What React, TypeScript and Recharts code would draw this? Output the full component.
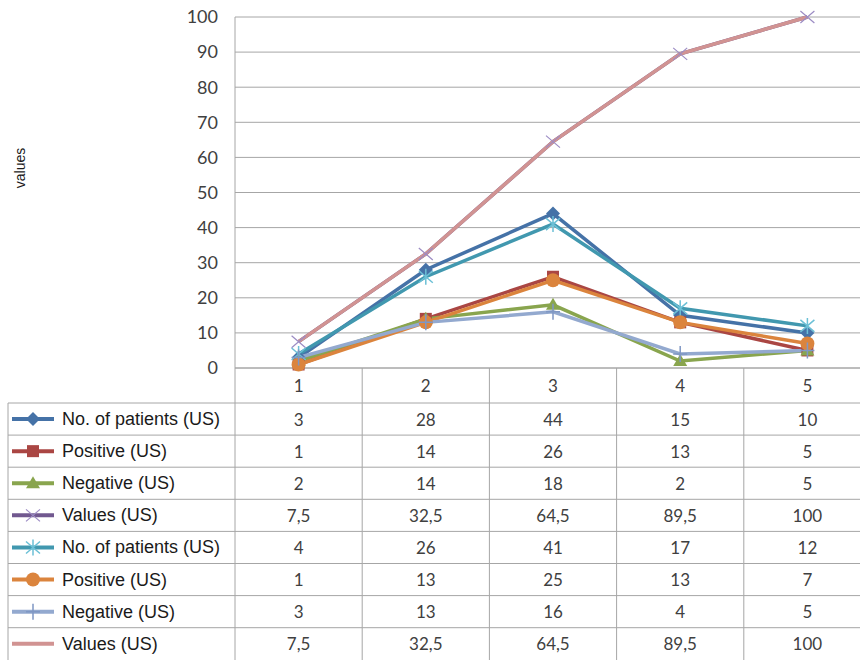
import { CartesianGrid, Line, LineChart, XAxis, YAxis } from 'recharts'

const categories = ['1', '2', '3', '4', '5']
const patientsA = [3, 28, 44, 15, 10]
const positiveA = [1, 14, 26, 13, 5]
const negativeA = [2, 14, 18, 2, 5]
const valuesA = [7.5, 32.5, 64.5, 89.5, 100]
const patientsB = [4, 26, 41, 17, 12]
const positiveB = [1, 13, 25, 13, 7]
const negativeB = [3, 13, 16, 4, 5]
const valuesB = [7.5, 32.5, 64.5, 89.5, 100]
const yTicks = [0, 10, 20, 30, 40, 50, 60, 70, 80, 90, 100]

type MarkerKind = 'diamond' | 'square' | 'triangle' | 'x' | 'star' | 'circle' | 'plus' | 'none'

const series: { key: string; name: string; values: number[]; color: string; mark: string; marker: MarkerKind }[] = [
  { key: 's1', name: 'No. of patients (US)', values: patientsA, color: '#4572a7', mark: '#4572a7', marker: 'diamond' },
  { key: 's2', name: 'Positive (US)', values: positiveA, color: '#aa4643', mark: '#aa4643', marker: 'square' },
  { key: 's3', name: 'Negative (US)', values: negativeA, color: '#89a54e', mark: '#89a54e', marker: 'triangle' },
  { key: 's4', name: 'Values (US)', values: valuesA, color: '#71588f', mark: '#9c8cc4', marker: 'x' },
  { key: 's5', name: 'No. of patients (US)', values: patientsB, color: '#4198af', mark: '#6cc0d6', marker: 'star' },
  { key: 's6', name: 'Positive (US)', values: positiveB, color: '#db843d', mark: '#db843d', marker: 'circle' },
  { key: 's7', name: 'Negative (US)', values: negativeB, color: '#93a9cf', mark: '#7f97c4', marker: 'plus' },
  { key: 's8', name: 'Values (US)', values: valuesB, color: '#d19392', mark: '#d19392', marker: 'none' },
]

const rows = categories.map((c, i) => {
  const r: Record<string, string | number> = { cat: c }
  series.forEach((s) => {
    r[s.key] = s.values[i]
  })
  return r
})

const GRID = '#a6a6a6'
const TEXT = '#404040'
const NUM_FONT = 'Lato, "Open Sans", sans-serif'
const LABEL_FONT = '"Liberation Sans", Arial, sans-serif'
const PLOT_BOTTOM = 368
const TABLE_TOP = 403
const ROW_H = 32.1
const COL_W = 127.2
const TABLE_LEFT = 8
const BOTTOM = 660

const fmt = (v: number) => String(v).replace('.', ',')

function Marker({ kind, cx, cy, color }: { kind: MarkerKind; cx: number; cy: number; color: string }) {
  switch (kind) {
    case 'diamond':
      return <path d={`M${cx},${cy - 7}L${cx + 7},${cy}L${cx},${cy + 7}L${cx - 7},${cy}Z`} fill={color} />
    case 'square':
      return <rect x={cx - 6} y={cy - 6} width={12} height={12} fill={color} />
    case 'triangle':
      return <path d={`M${cx},${cy - 7}L${cx + 7},${cy + 5}L${cx - 7},${cy + 5}Z`} fill={color} />
    case 'circle':
      return <circle cx={cx} cy={cy} r={7} fill={color} />
    case 'x':
      return (
        <path
          d={`M${cx - 7},${cy - 6}L${cx + 7},${cy + 6}M${cx - 7},${cy + 6}L${cx + 7},${cy - 6}`}
          stroke={color}
          strokeWidth={1.2}
        />
      )
    case 'star':
      return (
        <path
          d={`M${cx - 7},${cy - 6}L${cx + 7},${cy + 6}M${cx - 7},${cy + 6}L${cx + 7},${cy - 6}M${cx},${cy - 8}L${cx},${cy + 8}`}
          stroke={color}
          strokeWidth={1.5}
        />
      )
    case 'plus':
      return (
        <path
          d={`M${cx - 7},${cy}L${cx + 7},${cy}M${cx},${cy - 8}L${cx},${cy + 8}`}
          stroke={color}
          strokeWidth={1.5}
        />
      )
    default:
      return null
  }
}

function TableTick(props: any) {
  const { x, index, payload } = props
  const left = x - COL_W / 2
  const right = x + COL_W / 2
  const lines = series.map((_, i) => TABLE_TOP + i * ROW_H)
  return (
    <g>
      <line x1={right} y1={PLOT_BOTTOM} x2={right} y2={BOTTOM} stroke={GRID} />
      {lines.map((ly) => (
        <line key={ly} x1={left} y1={ly} x2={right} y2={ly} stroke={GRID} />
      ))}
      <text
        x={x}
        y={PLOT_BOTTOM + 17}
        textAnchor="middle"
        dominantBaseline="central"
        fontFamily={NUM_FONT}
        fontSize={17}
        fill={TEXT}
      >
        {payload.value}
      </text>
      {series.map((s, i) => (
        <text
          key={s.key}
          x={x}
          y={TABLE_TOP + i * ROW_H + ROW_H / 2}
          textAnchor="middle"
          dominantBaseline="central"
          fontFamily={NUM_FONT}
          fontSize={17}
          fill={TEXT}
        >
          {fmt(s.values[index])}
        </text>
      ))}
      {index === 0 && (
        <g>
          <line x1={left} y1={PLOT_BOTTOM} x2={left} y2={BOTTOM} stroke={GRID} />
          <line x1={TABLE_LEFT} y1={TABLE_TOP} x2={TABLE_LEFT} y2={BOTTOM} stroke={GRID} />
          {lines.map((ly) => (
            <line key={ly} x1={TABLE_LEFT} y1={ly} x2={left} y2={ly} stroke={GRID} />
          ))}
          {series.map((s, i) => {
            const cy = TABLE_TOP + i * ROW_H + ROW_H / 2
            return (
              <g key={s.key}>
                <line x1={12} y1={cy} x2={54} y2={cy} stroke={s.color} strokeWidth={4} />
                <Marker kind={s.marker} cx={33} cy={cy} color={s.mark} />
                <text x={62} y={cy} dominantBaseline="central" fontFamily={LABEL_FONT} fontSize={18} fill="#1a1a1a">
                  {s.name}
                </text>
              </g>
            )
          })}
        </g>
      )}
    </g>
  )
}

export default function App() {
  return (
    <div style={{ position: 'absolute', left: 0, top: 0, width: 860, height: 660, overflow: 'hidden', background: '#fff' }}>
      <LineChart width={872} height={660} data={rows} margin={{ top: 17, right: 1, left: 0, bottom: 0 }}>
        <CartesianGrid horizontal vertical={false} stroke={GRID} strokeWidth={1} />
        <XAxis
          dataKey="cat"
          height={292}
          interval={0}
          padding={{ left: COL_W / 2, right: COL_W / 2 }}
          axisLine={{ stroke: GRID }}
          tickLine={false}
          tick={(p: any) => <TableTick {...p} />}
        />
        <YAxis
          width={235}
          domain={[0, 100]}
          ticks={yTicks}
          interval={0}
          axisLine={{ stroke: GRID }}
          tickLine={false}
          tickSize={0}
          tickMargin={17}
          tick={{ fontFamily: NUM_FONT, fontSize: 18, fill: TEXT }}
          label={{
            content: () => (
              <text
                x={20}
                y={168}
                transform="rotate(-90 20 168)"
                textAnchor="middle"
                dominantBaseline="central"
                fontFamily={LABEL_FONT}
                fontSize={14}
                fill="#1a1a1a"
              >
                values
              </text>
            ),
          }}
        />
        {series.map((s) => (
          <Line
            key={s.key}
            dataKey={s.key}
            name={s.name}
            type="linear"
            stroke={s.color}
            strokeWidth={3.5}
            isAnimationActive={false}
            activeDot={false}
            dot={(p: any) => (
              <g key={`${s.key}-${p.index}`}>
                <Marker kind={s.marker} cx={p.cx} cy={p.cy} color={s.mark} />
              </g>
            )}
          />
        ))}
      </LineChart>
    </div>
  )
}
